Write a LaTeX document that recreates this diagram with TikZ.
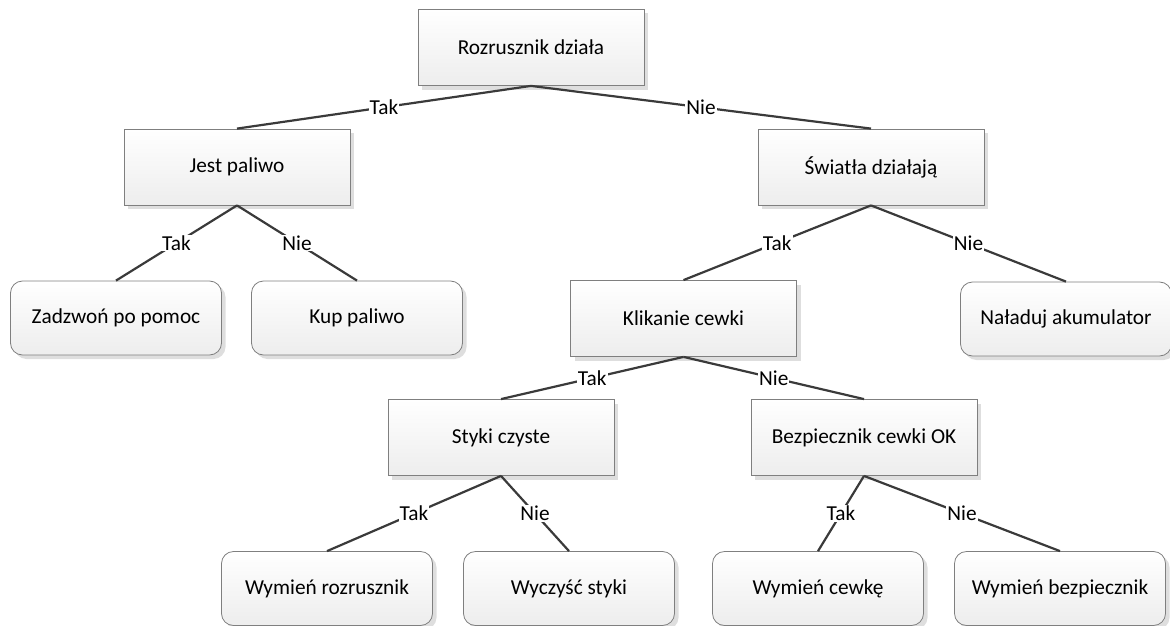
\documentclass[tikz,border=0pt]{standalone}
\usepackage{fontspec}
\setmainfont{Carlito}
\usetikzlibrary{shadows}
\definecolor{linedk}{HTML}{3A3A3A}
\definecolor{boxedge}{HTML}{7F7F7F}
\tikzset{
  decision/.style={draw=boxedge, line width=0.8pt, top color=white, bottom color=black!7,
    minimum width=226pt, minimum height=76pt, inner sep=0pt,
    drop shadow={shadow xshift=4pt, shadow yshift=-4pt, fill=black!13, opacity=1}},
  outcome/.style={decision, rounded corners=12pt, minimum width=211pt, minimum height=74pt},
  branch/.style={linedk, line width=2.2pt},
  answer/.style={fill=white, inner sep=1pt, text=black},
}

\begin{document}
\begin{tikzpicture}[x=1pt, y=-1pt, font=\fontsize{21.3}{25}\selectfont]
  \useasboundingbox (0,0) rectangle (1170,626);
  % ---------------- questions
  \node[decision] (start) at (531,47.5) {Rozrusznik działa};
  \node[decision] (fuel) at (237,167) {Jest paliwo};
  \node[decision] (lights) at (871,167) {Światła działają};
  \node[decision] (click) at (683.5,318.5) {Klikanie cewki};
  \node[decision] (contacts) at (501,437.5) {Styki czyste};
  \node[decision] (fuse) at (864,437.5) {Bezpiecznik cewki OK};
  % ---------------- actions
  \node[outcome] (call) at (116,318) {Zadzwoń po pomoc};
  \node[outcome] (buy) at (357,318) {Kup paliwo};
  \node[outcome] (charge) at (1066,319) {Naładuj akumulator};
  \node[outcome] (starter) at (327,588.5) {Wymień rozrusznik};
  \node[outcome] (clean) at (569,588.5) {Wyczyść styki};
  \node[outcome] (coil) at (818,588.5) {Wymień cewkę};
  \node[outcome] (newfuse) at (1060,588.5) {Wymień bezpiecznik};
  % ---------------- branches
  \foreach \from/\to/\ans in {start/fuel/Tak, start/lights/Nie,
      fuel/call/Tak, fuel/buy/Nie, lights/click/Tak, lights/charge/Nie,
      click/contacts/Tak, click/fuse/Nie, contacts/starter/Tak, contacts/clean/Nie,
      fuse/coil/Tak, fuse/newfuse/Nie}
    \draw[branch] (\from.south) -- node[answer] {\ans} (\to.north);
\end{tikzpicture}
\end{document}
